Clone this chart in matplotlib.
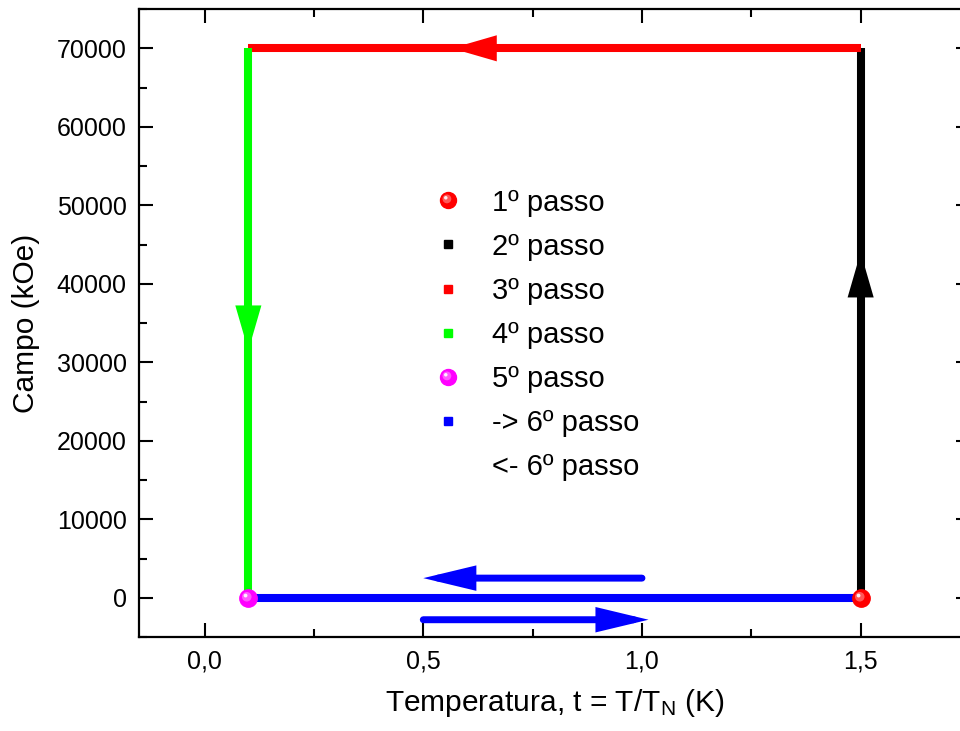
import matplotlib
matplotlib.use("Agg")
import matplotlib.pyplot as plt
from matplotlib.lines import Line2D
from matplotlib.markers import MarkerStyle
from matplotlib.transforms import Affine2D
from matplotlib.ticker import MultipleLocator, FuncFormatter

plt.rcParams["font.family"] = ["Liberation Sans", "DejaVu Sans"]
plt.rcParams["mathtext.fontset"] = "custom"
plt.rcParams["mathtext.rm"] = "Liberation Sans"
plt.rcParams["mathtext.it"] = "Liberation Sans"

# ciclo de temperatura (t = T/T_N) e campo (kOe)
passo1_t, passo1_h = [1.5], [0]
passo2_t, passo2_h = [1.5, 1.5], [0, 70000]
passo3_t, passo3_h = [1.5, 0.1], [70000, 70000]
passo4_t, passo4_h = [0.1, 0.1], [70000, 0]
passo5_t, passo5_h = [0.1], [0]
passo6_t, passo6_h = [0.1, 1.5], [0, 0]

# setas de sentido no meio de cada trecho
seta2 = ((1.5, 30000), (1.5, 44000))
seta3 = ((0.75, 70000), (0.565, 70000))
seta4 = ((0.1, 44000), (0.1, 31500))
seta6_volta = ((1.0, 2500), (0.5, 2500))
seta6_ida = ((0.5, -2800), (1.015, -2800))

labels = ["1º passo", "2º passo", "3º passo", "4º passo", "5º passo",
          "-> 6º passo", "<- 6º passo"]

fig = plt.figure(figsize=(9.6, 7.31), dpi=100)
ax = fig.add_axes([0.1448, 0.1286, 0.8656, 0.859])

lw = 5.8
ax.plot(passo6_t, passo6_h, color="#0000ff", lw=lw, solid_capstyle="butt", zorder=2)
ax.plot(passo2_t, passo2_h, color="black", lw=lw, solid_capstyle="butt", zorder=2)
ax.plot(passo3_t, passo3_h, color="#ff0000", lw=lw, solid_capstyle="butt", zorder=2)
ax.plot(passo4_t, passo4_h, color="#00ff00", lw=lw, solid_capstyle="butt", zorder=2)


def seta(p0, p1, cor, lw_seta, hl, hw):
    ax.annotate("", xy=p1, xytext=p0,
                arrowprops=dict(arrowstyle="-|>,head_length=%g,head_width=%g" % (hl, hw),
                                color=cor, lw=lw_seta, shrinkA=0, shrinkB=0,
                                capstyle="round", joinstyle="miter",
                                mutation_scale=20),
                zorder=3)


seta(*seta2, "black", 1.5, 1.45, 0.42)
seta(*seta3, "#ff0000", 1.5, 1.45, 0.42)
seta(*seta4, "#00ff00", 1.5, 1.45, 0.42)
seta(*seta6_volta, "#0000ff", 5, 1.25, 0.3)
seta(*seta6_ida, "#0000ff", 5, 1.25, 0.3)


# esferas (marcador com brilho)
def esfera(cor, ms):
    base = Line2D([], [], marker="o", ms=ms, color=cor, mec=cor, ls="none")
    meio = Line2D([], [], ms=ms, ls="none", color="white", alpha=0.35,
                  marker=MarkerStyle("o", transform=Affine2D().scale(0.55).translate(-0.1, 0.1)),
                  mew=0)
    brilho = Line2D([], [], ms=ms, ls="none", color="white", alpha=0.9,
                    marker=MarkerStyle("o", transform=Affine2D().scale(0.22).translate(-0.17, 0.17)),
                    mew=0)
    return base, meio, brilho


for t, h, cor in [(passo1_t, passo1_h, "#ff0000"), (passo5_t, passo5_h, "#ff00ff")]:
    for art in esfera(cor, 12.5):
        art.set_data(t, h)
        art.set_zorder(4)
        art.set_clip_on(False)
        ax.add_line(art)

# legenda
handles = [
    esfera("#ff0000", 11.5),
    Line2D([], [], marker="s", ms=5.5, color="black", ls="none"),
    Line2D([], [], marker="s", ms=5.5, color="#ff0000", ls="none"),
    Line2D([], [], marker="s", ms=5.5, color="#00ff00", ls="none"),
    esfera("#ff00ff", 11.5),
    Line2D([], [], marker="s", ms=5.5, color="#0000ff", ls="none"),
    Line2D([], [], ls="none"),
]
ax.legend(handles, labels, loc="upper left", bbox_to_anchor=(0.355, 0.714),
          frameon=False, fontsize=21, borderpad=0, borderaxespad=0,
          handlelength=0.95, handletextpad=1.03, labelspacing=0.55)

ax.set_xlim(-0.15, 1.75)
ax.set_ylim(-5000, 75000)
ax.xaxis.set_major_locator(MultipleLocator(0.5))
ax.xaxis.set_minor_locator(MultipleLocator(0.25))
ax.yaxis.set_major_locator(MultipleLocator(10000))
ax.yaxis.set_minor_locator(MultipleLocator(5000))
ax.xaxis.set_major_formatter(FuncFormatter(lambda v, p: ("%.1f" % v).replace(".", ",")))
ax.yaxis.set_major_formatter(FuncFormatter(lambda v, p: "%d" % v))

ax.tick_params(which="both", direction="in", top=True, right=True, width=1.5,
               labelsize=18, pad=9)
ax.tick_params(which="major", length=10)
ax.tick_params(which="minor", length=5.5)
for s in ax.spines.values():
    s.set_linewidth(1.6)

ax.set_xlabel("Temperatura, t = T/T$_\\mathrm{N}$ (K)", fontsize=21.5, labelpad=10)
ax.set_ylabel("Campo (kOe)", fontsize=21.5, labelpad=12)

fig.savefig("out.png", dpi=100)
